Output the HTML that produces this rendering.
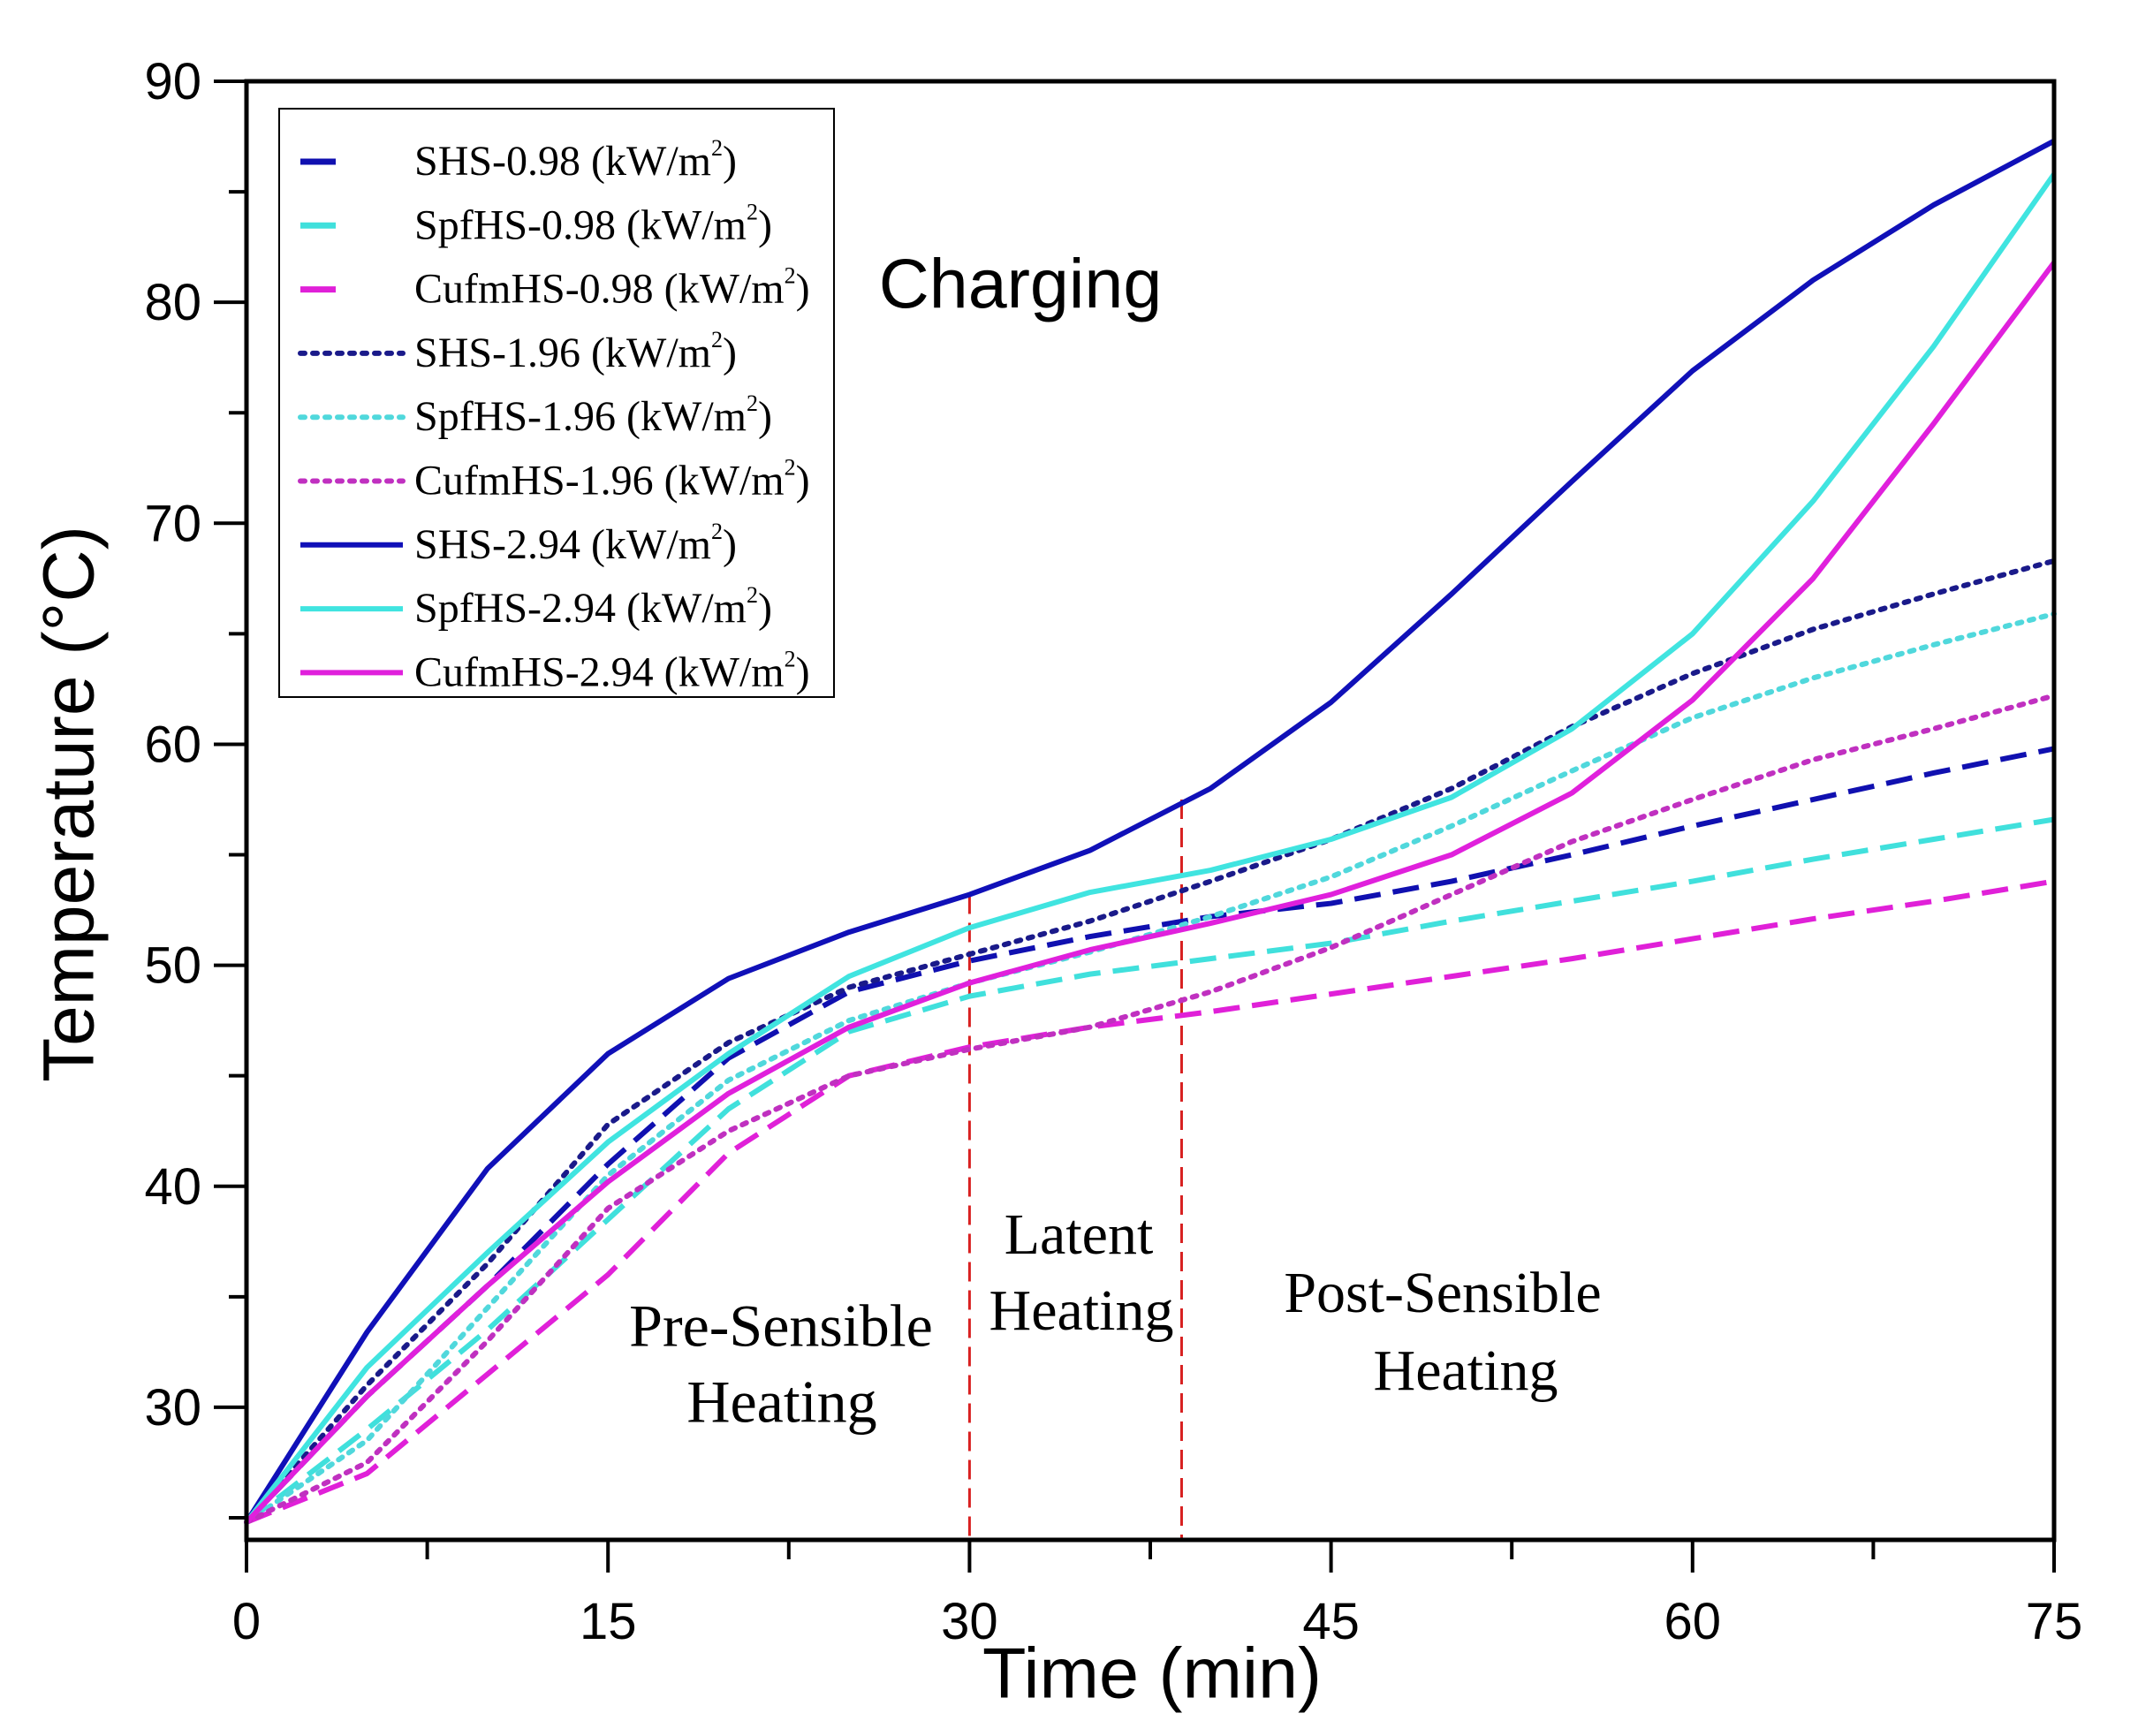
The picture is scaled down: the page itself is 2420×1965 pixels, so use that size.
<!DOCTYPE html>
<html><head><meta charset="utf-8"><style>
html,body{margin:0;padding:0;background:#fff;}
svg{display:block;}
</style></head><body>
<svg id="chart" width="2420" height="1965" viewBox="0 0 2420 1965" xmlns="http://www.w3.org/2000/svg">
<g id="plot"></g>
</svg>
<script>
const times=[0,5,10,15,20,25,30,35,40,45,50,55,60,65,70,75];
const shs098=[24.8,30.5,35.5,41.0,45.8,48.8,50.2,51.3,52.2,52.8,53.8,55.0,56.3,57.5,58.7,59.8];
const spf098=[24.8,29.0,33.5,38.5,43.5,47.0,48.6,49.6,50.3,51.0,52.0,52.9,53.8,54.8,55.7,56.6];
const cuf098=[24.8,27.0,31.5,36.0,41.5,45.0,46.3,47.2,47.9,48.7,49.5,50.3,51.2,52.1,52.9,53.8];
const shs196=[24.8,31.0,36.5,42.8,46.5,49.0,50.5,52.0,53.8,55.7,58.0,60.8,63.2,65.2,66.8,68.3];
const spf196=[24.8,28.5,34.5,40.5,44.8,47.5,49.2,50.6,52.2,54.0,56.3,58.8,61.2,63.0,64.5,65.9];
const cuf196=[24.8,27.5,33.0,39.0,42.5,45.0,46.2,47.2,48.8,50.8,53.2,55.6,57.5,59.3,60.7,62.2];
const shs294=[24.8,33.4,40.8,46.0,49.4,51.5,53.2,55.2,58.0,61.9,66.8,71.9,76.9,81.0,84.4,87.3];
const spf294=[24.8,31.8,37.0,42.0,46.0,49.5,51.7,53.3,54.3,55.7,57.6,60.7,65.0,71.0,78.0,85.8];
const cuf294=[24.8,30.5,35.5,40.2,44.2,47.2,49.2,50.7,51.9,53.2,55.0,57.8,62.0,67.5,74.5,81.8];
const xTicks=[0,15,30,45,60,75];
const yTicks=[30,40,50,60,70,80,90];
const seriesNames=["SHS-0.98","SpfHS-0.98","CufmHS-0.98","SHS-1.96","SpfHS-1.96","CufmHS-1.96","SHS-2.94","SpfHS-2.94","CufmHS-2.94"];
const phaseX=[30,38.8];
const phaseTop=[53.2,57.5];

const L=279,R=2325,T=92,B=1743,XMIN=0,XMAX=75,YMIN=24,YMAX=90;
const xs=v=>L+(v-XMIN)/(XMAX-XMIN)*(R-L);
const ys=v=>B-(v-YMIN)/(YMAX-YMIN)*(B-T);
const NS="http://www.w3.org/2000/svg";
const svg=document.getElementById('chart');
const plot=document.getElementById('plot');
function mk(tag,attrs,parent){const e=document.createElementNS(NS,tag);for(const k in attrs)e.setAttribute(k,attrs[k]);(parent||svg).appendChild(e);return e;}

const colors=["#1010b0","#40e0dc","#e020d8","#1a1a8a","#50d8dc","#c030c0","#1010b8","#40e4e0","#e020dc"];
const dashes=["30 14","30 14","30 14","5 9","5 9","5 9","none","none","none"];
const data=[shs098,spf098,cuf098,shs196,spf196,cuf196,shs294,spf294,cuf294];
const slugs=["shs-098","spfhs-098","cufmhs-098","shs-196","spfhs-196","cufmhs-196","shs-294","spfhs-294","cufmhs-294"];

phaseX.forEach((px,i)=>{
  const l=mk('line',{x1:xs(px),x2:xs(px),y1:ys(phaseTop[i]),y2:B,stroke:'#d82020','stroke-width':3,'stroke-dasharray':'22 10'},plot);
  
  
});

data.forEach((arr,i)=>{
  const pts=arr.map((v,j)=>xs(times[j])+','+ys(v)).join(' ');
  const p=mk('polyline',{points:pts,fill:'none',stroke:colors[i],'stroke-width':6,'stroke-dasharray':dashes[i],'stroke-linejoin':'round','stroke-linecap':i>=3&&i<6?'round':'butt'},plot);
  
  
});

const fr=mk('rect',{x:L,y:T,width:R-L,height:B-T,fill:'none',stroke:'#000','stroke-width':5});



for(let v=0;v<=75;v+=7.5){
  const major=xTicks.includes(v);
  const t=mk('line',{x1:xs(v),x2:xs(v),y1:B,y2:B+(major?37:22),stroke:'#000','stroke-width':4});
  
  
}
xTicks.forEach(v=>{
  const t=mk('text',{x:xs(v),y:1855,'text-anchor':'middle','font-family':'Liberation Sans, sans-serif','font-size':58});
  t.textContent=v;
  
  
});
for(let v=25;v<=90;v+=5){
  const major=yTicks.includes(v);
  const t=mk('line',{x1:L,x2:L-(major?37:20),y1:ys(v),y2:ys(v),stroke:'#000','stroke-width':4});
  
  
}
yTicks.forEach(v=>{
  const t=mk('text',{x:228,y:ys(v)+20,'text-anchor':'end','font-family':'Liberation Sans, sans-serif','font-size':58});
  t.textContent=v;
  
  
});

const lg=mk('g',{});


mk('rect',{x:316,y:123,width:628,height:666,fill:'#fff',stroke:'#000','stroke-width':2},lg);
seriesNames.forEach((n,i)=>{
  const y=183+i*72.3;
  const g=mk('g',{},lg);
  
  
  if(i<3) mk('line',{x1:340,x2:380,y1:y,y2:y,stroke:colors[i],'stroke-width':7},g);
  else mk('line',{x1:340,x2:456,y1:y,y2:y,stroke:colors[i],'stroke-width':6,'stroke-dasharray':dashes[i],'stroke-linecap':i<6?'round':'butt'},g);
  const t=mk('text',{x:469,y:y+15,'font-family':'Liberation Serif, serif','font-size':48},g);
  t.textContent=n+' (kW/m';
  const s=mk('tspan',{'font-size':26,dy:-22},t);
  s.textContent='2';
  const c=mk('tspan',{'font-size':48,dy:22},t);
  c.textContent=')';
});

function label(txt,x,y,size,fam,name){
  const t=mk('text',{x:x,y:y,'text-anchor':'middle','font-family':fam,'font-size':size,'dominant-baseline':'middle'});
  t.textContent=txt;
  
  
  return t;
}
label('Charging',1155,327,79,'Liberation Sans, sans-serif','chart-title');
label('Pre-Sensible',884,1508,68,'Liberation Serif, serif','pre-sensible-label');
label('Heating',885,1594,68,'Liberation Serif, serif','pre-sensible-heating-label');
label('Latent',1221,1404,66,'Liberation Serif, serif','latent-label');
label('Heating',1224,1490,66,'Liberation Serif, serif','latent-heating-label');
label('Post-Sensible',1633,1470,66,'Liberation Serif, serif','post-sensible-label');
label('Heating',1659,1558,66,'Liberation Serif, serif','post-sensible-heating-label');
label('Time (min)',1304,1900,81,'Liberation Sans, sans-serif','x-axis-title');
const yt=label('Temperature (°C)',0,0,82,'Liberation Sans, sans-serif','y-axis-title');
yt.setAttribute('transform','translate(84,910) rotate(-90)');
</script>
</body></html>
